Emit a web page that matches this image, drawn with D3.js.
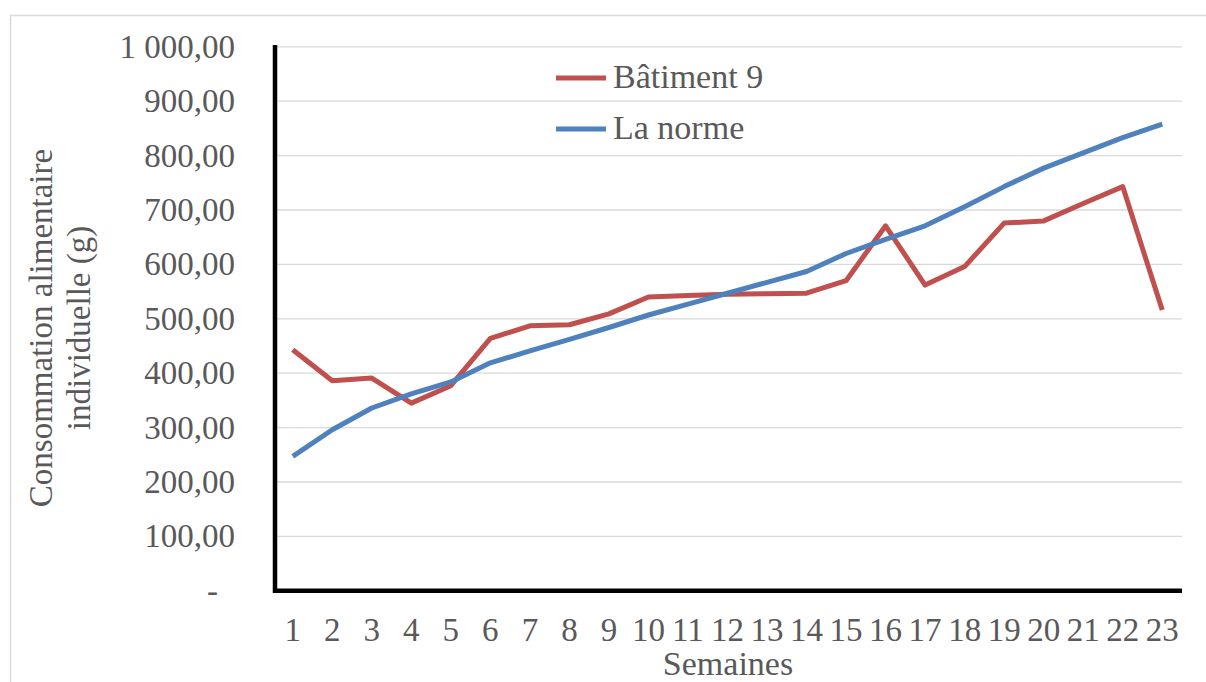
<!DOCTYPE html>
<html>
<head>
<meta charset="utf-8">
<script src="https://cdn.jsdelivr.net/npm/d3@7"></script>
<style>
  body { margin: 0; background: #fff; }
  svg text { font-family: "Times New Roman", "Liberation Serif", "DejaVu Serif", serif !important; fill: #595959; }
</style>
</head>
<body>
<div id="chart"></div>
<script>
// weeks 1..23
const semaines = d3.range(1, 24).map(String);
const batiment9 = [443, 386, 391, 345, 377, 464, 487, 489, 509, 540, 543, 545, 546, 547, 570, 671, 562, 596, 676, 680, 712, 743, 516];
const laNorme = [247, 296, 336, 362, 384, 419, 441, 462, 484, 507, 527, 547, 567, 587, 620, 646, 671, 706, 743, 777, 805, 833, 858];
const yTicks = [0, 100, 200, 300, 400, 500, 600, 700, 800, 900, 1000];
const seriesNames = ["Bâtiment 9", "La norme"];
const seriesColors = ["#C0504D", "#4F81BD"];

const width = 1206, height = 682;
const svg = d3.select("#chart").append("svg")
    .attr("width", width)
    .attr("height", height);

// outer chart border
svg.append("rect")
    .attr("x", 10.5).attr("y", 15.5)
    .attr("width", 1200).attr("height", 680)
    .attr("fill", "none")
    .attr("stroke", "#D9D9D9")
    .attr("stroke-width", 1.5);

const x = d3.scaleBand().domain(semaines).range([273, 1182]);
const y = d3.scaleLinear().domain([0, 1000]).range([590.8, 46.8]);

const fr = d3.formatLocale({ decimal: ",", thousands: "\u00a0", grouping: [3], currency: ["", " €"] });
const fmt = fr.format(",.2f");

// gridlines
svg.append("g")
    .selectAll("line")
    .data(yTicks.filter(d => d > 0))
    .join("line")
    .attr("x1", 276).attr("x2", 1182)
    .attr("y1", d => y(d)).attr("y2", d => y(d))
    .attr("stroke", "#D9D9D9")
    .attr("stroke-width", 1.3);

// y axis labels
const yAxis = svg.append("g")
    .attr("transform", "translate(235,0)")
    .call(d3.axisLeft(y).tickValues(yTicks).tickSize(0).tickPadding(0)
        .tickFormat(d => d === 0 ? "-" : fmt(d)));
yAxis.select(".domain").remove();
yAxis.attr("font-family", null).attr("font-size", null);
yAxis.selectAll("text")
    .style("font-size", "33px")
    .attr("fill", "#595959")
    .attr("x", d => d === 0 ? -17 : 0);

// x axis labels
const xAxis = svg.append("g")
    .attr("transform", "translate(0,618)")
    .call(d3.axisBottom(x).tickSize(0).tickPadding(0));
xAxis.select(".domain").remove();
xAxis.attr("font-family", null).attr("font-size", null);
xAxis.selectAll("text")
    .style("font-size", "33px")
    .attr("fill", "#595959")
    .attr("dy", "0.71em");

// axis lines
svg.append("line")
    .attr("x1", 275).attr("x2", 275)
    .attr("y1", 45).attr("y2", 593)
    .attr("stroke", "#000").attr("stroke-width", 4.5);
svg.append("line")
    .attr("x1", 273).attr("x2", 1182)
    .attr("y1", 590.8).attr("y2", 590.8)
    .attr("stroke", "#000").attr("stroke-width", 4.5);

// series
const line = d3.line()
    .x((d, i) => x(semaines[i]) + x.bandwidth() / 2)
    .y(d => y(d));

[batiment9, laNorme].forEach((vals, i) => {
    svg.append("path")
        .datum(vals)
        .attr("fill", "none")
        .attr("stroke", seriesColors[i])
        .attr("stroke-width", 5)
        .attr("stroke-linejoin", "round")
        .attr("d", line);
});

// legend
const legend = svg.append("g");
seriesNames.forEach((name, i) => {
    const ly = 78 + i * 51;
    legend.append("line")
        .attr("x1", 556).attr("x2", 606)
        .attr("y1", ly).attr("y2", ly)
        .attr("stroke", seriesColors[i])
        .attr("stroke-width", 5);
    legend.append("text")
        .attr("x", 613).attr("y", ly + 10)
        .style("font-size", "34px")
        .text(name);
});

// axis titles
svg.append("text")
    .attr("x", 728).attr("y", 675)
    .attr("text-anchor", "middle")
    .style("font-size", "34px")
    .text("Semaines");

const yTitle = svg.append("text")
    .attr("transform", "translate(52,328) rotate(-90)")
    .attr("text-anchor", "middle")
    .style("font-size", "33px");
yTitle.append("tspan").attr("x", 0).attr("y", 0).text("Consommation alimentaire");
yTitle.append("tspan").attr("x", 0).attr("y", 38).text("individuelle (g)");
</script>
</body>
</html>
